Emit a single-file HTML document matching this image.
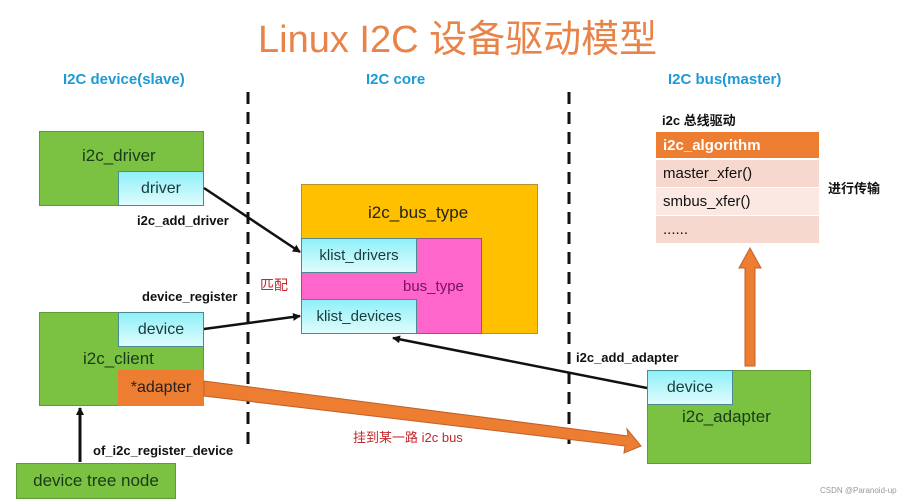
<!DOCTYPE html>
<html><head><meta charset="utf-8"><style>
body{margin:0;width:906px;height:500px;background:#fff;position:relative;overflow:hidden;font-family:"Liberation Sans","Noto Sans CJK SC",sans-serif}
.a{position:absolute;box-sizing:border-box}
.g{background:#7cc242;border:1px solid #5f9a35}
.c{background:linear-gradient(#8ef0f8,#e0fcfd);border:1px solid #4a8a90;display:flex;align-items:center;justify-content:center;font-size:16px;color:#1a3a3a}
.t{position:absolute;white-space:nowrap}
.b{font-weight:bold;font-size:13px;color:#111}
.h{font-weight:bold;font-size:15px;color:#1e9ad6}
.r{background:#f6d8cf;font-size:15px;color:#111;padding-left:7px;display:flex;align-items:center}
</style></head><body>
<div class="t" style="left:258px;top:8px;font-size:38px;color:#e8834a">Linux I2C 设备驱动模型</div>
<div class="t h" style="left:63px;top:71px">I2C device(slave)</div>
<div class="t h" style="left:366px;top:71px">I2C core</div>
<div class="t h" style="left:668px;top:71px">I2C bus(master)</div>

<svg class="a" style="left:0;top:0" width="906" height="500">
<line x1="248" y1="92" x2="248" y2="445" stroke="#111" stroke-width="3" stroke-dasharray="12,8"/>
<line x1="569" y1="92" x2="569" y2="445" stroke="#111" stroke-width="3" stroke-dasharray="12,8"/>
</svg>

<div class="a g" style="left:39px;top:131px;width:165px;height:75px"></div>
<div class="t" style="left:82px;top:146px;font-size:17px;color:#1a3a1a">i2c_driver</div>
<div class="a c" style="left:118px;top:171px;width:86px;height:35px">driver</div>

<div class="a g" style="left:39px;top:312px;width:165px;height:94px"></div>
<div class="a c" style="left:118px;top:312px;width:86px;height:35px">device</div>
<div class="t" style="left:83px;top:349px;font-size:17px;color:#1a3a1a">i2c_client</div>
<div class="a" style="left:118px;top:370px;width:86px;height:36px;background:#ed7d31;display:flex;align-items:center;justify-content:center;font-size:16px;color:#222">*adapter</div>

<div class="a g" style="left:16px;top:463px;width:160px;height:36px;display:flex;align-items:center;justify-content:center;font-size:17px;color:#1a3a1a">device tree node</div>

<div class="t b" style="left:137px;top:213px">i2c_add_driver</div>
<div class="t b" style="left:142px;top:289px">device_register</div>
<div class="t b" style="left:93px;top:443px">of_i2c_register_device</div>
<div class="t" style="left:260px;top:275px;font-size:14px;color:#c0282d">匹配</div>

<div class="a" style="left:301px;top:184px;width:237px;height:150px;background:#ffc000;border:1px solid #b89030"></div>
<div class="t" style="left:368px;top:203px;font-size:17px;color:#222">i2c_bus_type</div>
<div class="a" style="left:301px;top:238px;width:181px;height:96px;background:#ff66cc;border:1px solid #a05080"></div>
<div class="t" style="left:403px;top:278px;font-size:15px;color:#7a1060">bus_type</div>
<div class="a c" style="left:301px;top:238px;width:116px;height:35px;font-size:15px">klist_drivers</div>
<div class="a c" style="left:301px;top:299px;width:116px;height:35px;font-size:15px">klist_devices</div>

<div class="t b" style="left:662px;top:110px">i2c 总线驱动</div>
<div class="a" style="left:656px;top:132px;width:163px;height:26px;background:#ed7d31;color:#fff;font-weight:bold;font-size:15px;padding-left:7px;display:flex;align-items:center">i2c_algorithm</div>
<div class="a r" style="left:656px;top:160px;width:163px;height:27px">master_xfer()</div>
<div class="a r" style="left:656px;top:188px;width:163px;height:27px;background:#fbe8e3">smbus_xfer()</div>
<div class="a r" style="left:656px;top:216px;width:163px;height:27px">......</div>
<div class="t b" style="left:828px;top:178px">进行传输</div>

<div class="a g" style="left:647px;top:370px;width:164px;height:94px"></div>
<div class="a c" style="left:647px;top:370px;width:86px;height:35px">device</div>
<div class="t" style="left:682px;top:407px;font-size:17px;color:#1a3a1a">i2c_adapter</div>
<div class="t b" style="left:576px;top:350px">i2c_add_adapter</div>
<div class="t" style="left:353px;top:427px;font-size:13px;color:#c0282d">挂到某一路 i2c bus</div>
<div class="t" style="left:820px;top:486px;font-size:8px;color:#999">CSDN @Paranoid-up</div>

<svg class="a" style="left:0;top:0" width="906" height="500">
<defs><marker id="m" markerWidth="8" markerHeight="8" refX="7" refY="4" orient="auto" markerUnits="userSpaceOnUse"><path d="M0,0L8,4L0,8z" fill="#111"/></marker></defs>
<line x1="204" y1="188" x2="300" y2="252" stroke="#111" stroke-width="2.5" marker-end="url(#m)"/>
<line x1="204" y1="329" x2="300" y2="316" stroke="#111" stroke-width="2.5" marker-end="url(#m)"/>
<line x1="647" y1="388" x2="393" y2="338" stroke="#111" stroke-width="2.5" marker-end="url(#m)"/>
<line x1="80" y1="462" x2="80" y2="408" stroke="#111" stroke-width="3" marker-end="url(#m)"/>
<polygon points="204,381 628,436 627,429 641,446 624,453 625,446 204,396" fill="#ed7d31" stroke="#c0612a" stroke-width="1"/>
<polygon points="745,366 745,268 739,268 750,248 761,268 755,268 755,366" fill="#ed7d31" stroke="#c0612a" stroke-width="1"/>
</svg>
</body></html>
